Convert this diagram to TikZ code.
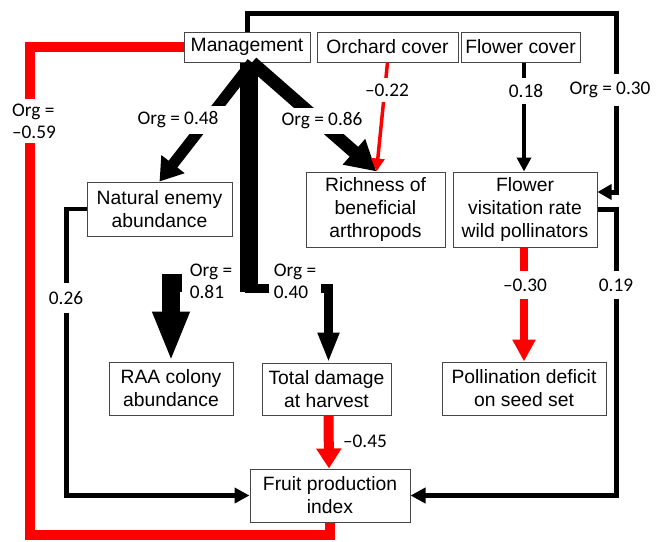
\documentclass[tikz,border=0pt]{standalone}
\usepackage{fontspec}
\setmainfont{Liberation Sans}
\newfontfamily\lblfont{Carlito}
\usetikzlibrary{arrows.meta}
\definecolor{pathred}{RGB}{255,0,0}
\definecolor{boxline}{RGB}{70,70,70}
\begin{document}
\begin{tikzpicture}[x=1pt,y=-1pt,
  box/.style={draw=boxline, line width=1pt, fill=white, align=center, inner sep=0pt,
    font=\fontsize{19.3}{23}\selectfont},
  lbl/.style={fill=white, inner sep=3pt, align=left,
    font=\lblfont\fontsize{19.3}{22}\selectfont},
  blk/.style={draw=black, line join=miter},
  rd/.style={draw=pathred, line join=miter},
  tip/.style={-{Triangle[#1]}}
]
\useasboundingbox (0,0) rectangle (663,541);

% boxes
\node[box, minimum width=126pt, minimum height=30pt] (mg) at (247,47) {Management};
\node[box, minimum width=141pt, minimum height=30pt] (oc) at (387.5,47) {Orchard cover};
\node[box, minimum width=119pt, minimum height=30pt] (fc) at (520.5,47) {Flower cover};
\node[box, minimum width=145pt, minimum height=54pt] (ne) at (159.5,209) {Natural enemy\\abundance};
\node[box, minimum width=139pt, minimum height=75pt] (rb) at (375.5,209.5) {Richness of\\beneficial\\arthropods};
\node[box, minimum width=144pt, minimum height=75pt] (fv) at (525,209.5) {Flower\\visitation rate\\wild pollinators};
\node[box, minimum width=124pt, minimum height=53pt] (raa) at (171,388.5) {RAA colony\\abundance};
\node[box, minimum width=129pt, minimum height=52pt] (td) at (326.5,389) {Total damage\\at harvest};
\node[box, minimum width=164pt, minimum height=53pt] (pd) at (524,388.5) {Pollination deficit\\on seed set};
\node[box, minimum width=160pt, minimum height=53pt] (fp) at (330,495.5) {Fruit production\\index};

% red Org = -0.59 loop
\draw[rd, line width=10pt] (fp.south) |- (30,535) |- (mg.west);

% top black loop to flower visitation
\draw[blk, line width=5pt, tip={width=15pt,length=14pt}]
  (mg.north) |- (616,13) |- ([yshift=17.5pt]fv.east);

% flower visitation -> fruit production
\draw[blk, line width=4.5pt, tip={width=15pt,length=15pt}]
  (fv.east) -- ++(19,0) |- (fp.east);

% natural enemy -> fruit production
\draw[blk, line width=4.5pt, tip={width=15pt,length=15pt}]
  (ne.west) -- ++(-20,0) |- (fp.west);

% management -> RAA and total damage
\draw[blk, line width=18pt, tip={width=34pt,length=50pt}]
  ([xshift=2pt]mg.south) -- ++(0,220) -| (raa.north);
\draw[blk, line width=9pt, tip={width=20pt,length=30pt}]
  ([xshift=2pt]mg.south) -- ++(0,225.5) -| ([xshift=2pt]td.north);

% management -> natural enemy, richness
\draw[blk, line width=11pt, tip={width=28pt,length=22pt}]
  ([xshift=5pt]mg.south) -- (ne.north);
\draw[blk, line width=13pt, tip={width=32pt,length=30pt}]
  ([xshift=5pt]mg.south) -- ([xshift=1pt]rb.north);

% orchard cover -> richness
\draw[rd, line width=3.5pt, tip={width=13pt,length=13pt}]
  (oc.south) -- ([xshift=1pt]rb.north);

% flower cover -> flower visitation
\draw[blk, line width=4.5pt, tip={width=14pt,length=14pt}]
  ([xshift=3.5pt]fc.south) -- ([xshift=-1pt]fv.north);

% flower visitation -> pollination deficit
\draw[rd, line width=8pt, tip={width=22pt,length=22pt}]
  ([xshift=-1pt]fv.south) -- (pd.north);

% total damage -> fruit production
\draw[rd, line width=10pt, tip={width=24pt,length=20pt}]
  ([xshift=2pt]td.south) -- ([xshift=-1pt]fp.north);

% labels
\node[lbl, inner ysep=5pt] (l59) at (34,121) {Org =\\–0.59};
\node[lbl, inner xsep=7pt, inner ysep=6pt] (l48) at (178,120) {Org = 0.48};
\node[lbl, inner ysep=5pt] (l86) at (322,121) {Org = 0.86};
\node[lbl, inner ysep=6pt] (l22) at (387,90) {–0.22};
\node[lbl, inner ysep=6pt] (l18) at (526,91) {0.18};
\node[lbl, inner ysep=8pt] (l30) at (610,90) {Org = 0.30};
\node[lbl, minimum width=58pt] (l81) at (211,281) {Org =\\0.81};
\node[lbl, minimum width=52pt] (l40) at (295,281) {Org =\\0.40};
\node[lbl, inner ysep=8pt] (l26) at (66,298) {0.26};
\node[lbl, inner ysep=8pt] (l19) at (616,285) {0.19};
\node[lbl, inner ysep=8pt] (l30b) at (525,285) {–0.30};
\node[lbl, inner sep=1pt] (l45) at (365,441) {–0.45};
\end{tikzpicture}
\end{document}
